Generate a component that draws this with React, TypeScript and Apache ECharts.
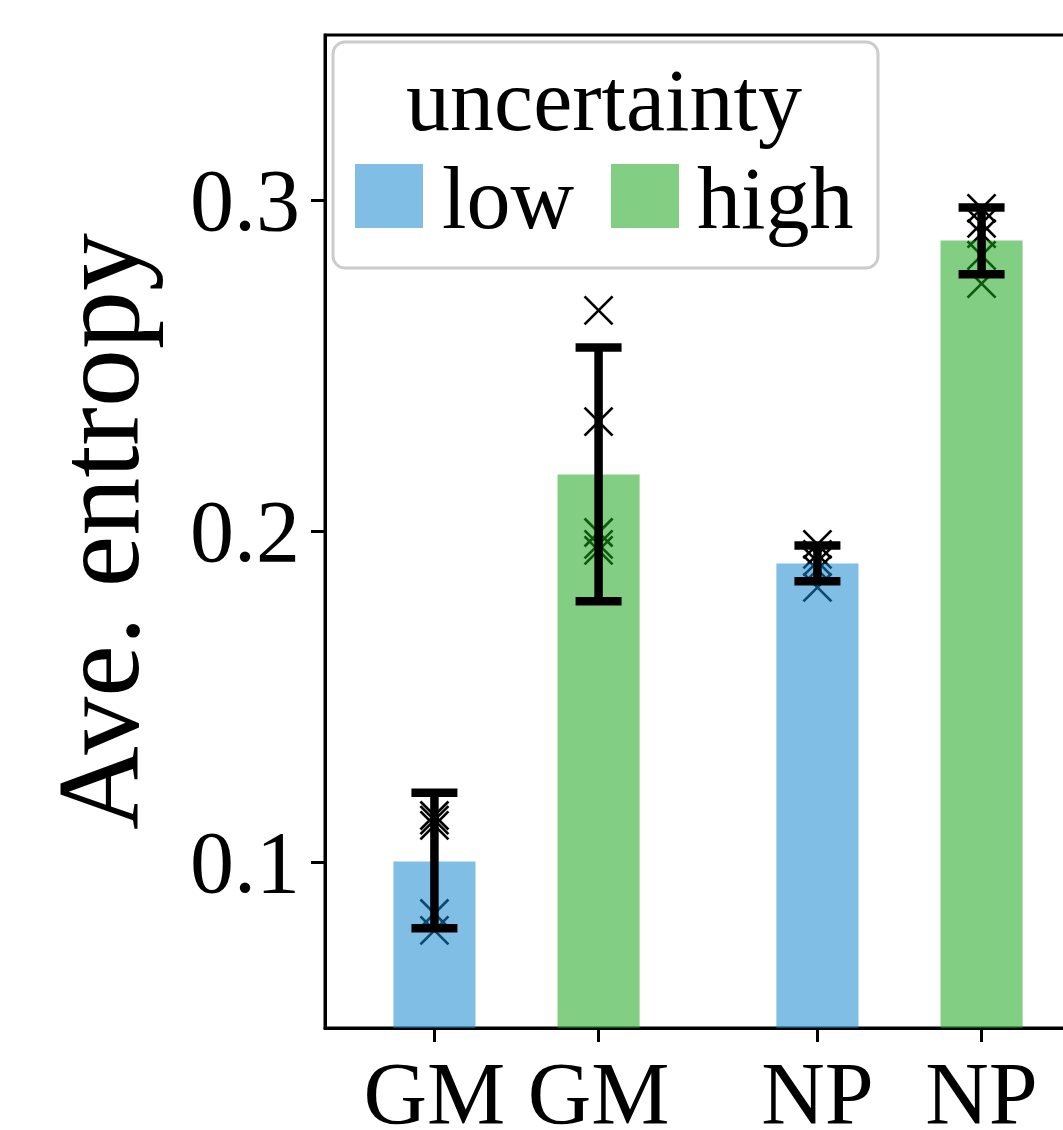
import React, { useEffect, useRef } from "react";
import * as echarts from "echarts";

// ---- data ----
const categories = ["GM", "GM", "NP", "NP"];
const positions = [0, 0.3, 0.7, 1.0];
const groups = ["low", "high", "low", "high"];
const meanValues = [0.1003, 0.2172, 0.1903, 0.2879];
const errLow = [0.0801, 0.1789, 0.185, 0.2777];
const errHigh = [0.1211, 0.2556, 0.1958, 0.2979];
const runsGMLow = [0.1142, 0.1128, 0.1112, 0.0846, 0.0795];
const runsGMHigh = [0.2668, 0.2332, 0.1997, 0.1961, 0.1943];
const runsNPLow = [0.1961, 0.1931, 0.1909, 0.1885, 0.1831];
const runsNPHigh = [0.2976, 0.2931, 0.29, 0.2834, 0.2749];
const runs = [runsGMLow, runsGMHigh, runsNPLow, runsNPHigh];
const yTicks = [0.1, 0.2, 0.3];
const legendTitle = "uncertainty";
const groupNames = ["low", "high"];

// ---- styles ----
const FONT = '"Liberation Serif", "Times New Roman", serif';
const Y_MIN = 0.05;
const Y_MAX = 0.35;
const X_MIN = -0.2;
const X_MAX = 1.2;
const BAR_WIDTH = 0.15;
const BAR_ALPHA = 0.54;
const groupColors: Record<string, string> = {
  low: "rgba(20,135,207," + BAR_ALPHA + ")",
  high: "rgba(24,164,24," + BAR_ALPHA + ")",
};

export default function App() {
  const ref = useRef<HTMLDivElement>(null);
  useEffect(() => {
    if (!ref.current) return;
    const chart = echarts.init(ref.current, null, { renderer: "svg" });

    const barSeries = groupNames.map((g) => ({
      type: "custom",
      name: g,
      z: 3,
      data: positions
        .map((p, i) => [p, meanValues[i], i])
        .filter((d) => groups[d[2] as number] === g),
      renderItem: (params: any, api: any) => {
        const x = api.value(0);
        const v = api.value(1);
        const top = api.coord([x, v]);
        const base = api.coord([x, Y_MIN]);
        const w = api.size([BAR_WIDTH, 0])[0];
        return {
          type: "rect",
          shape: { x: top[0] - w / 2, y: top[1], width: w, height: base[1] - top[1] },
          style: { fill: groupColors[g] },
        };
      },
    }));

    const crossData: number[][] = [];
    runs.forEach((arr, i) => arr.forEach((v) => crossData.push([positions[i], v])));

    const crossSeries = {
      type: "custom",
      name: "runs",
      z: 2,
      data: crossData,
      renderItem: (params: any, api: any) => {
        const c = api.coord([api.value(0), api.value(1)]);
        const s = 14;
        const st = { stroke: "#000", lineWidth: 2.6 };
        return {
          type: "group",
          children: [
            { type: "line", shape: { x1: c[0] - s, y1: c[1] - s, x2: c[0] + s, y2: c[1] + s }, style: st },
            { type: "line", shape: { x1: c[0] - s, y1: c[1] + s, x2: c[0] + s, y2: c[1] - s }, style: st },
          ],
        };
      },
    };

    const errSeries = {
      type: "custom",
      name: "error",
      z: 4,
      data: positions.map((p, i) => [p, errLow[i], errHigh[i]]),
      encode: { x: 0, y: [1, 2] },
      renderItem: (params: any, api: any) => {
        const lo = api.coord([api.value(0), api.value(1)]);
        const hi = api.coord([api.value(0), api.value(2)]);
        const cw = 23;
        const st = { stroke: "#000", lineWidth: 8.5 };
        return {
          type: "group",
          children: [
            { type: "line", shape: { x1: lo[0], y1: lo[1], x2: hi[0], y2: hi[1] }, style: st },
            { type: "line", shape: { x1: lo[0] - cw, y1: lo[1], x2: lo[0] + cw, y2: lo[1] }, style: st },
            { type: "line", shape: { x1: hi[0] - cw, y1: hi[1], x2: hi[0] + cw, y2: hi[1] }, style: st },
          ],
        };
      },
    };

    const labelFor = (v: number) => {
      const i = positions.findIndex((p) => Math.abs(p - v) < 1e-6);
      return i >= 0 ? categories[i] : "";
    };

    const textStyle = { fontFamily: FONT, fontSize: 88, fill: "#000" };

    chart.setOption({
      animation: false,
      backgroundColor: "#fff",
      grid: {
        left: 325,
        top: 35,
        width: 766,
        height: 993,
        outerBoundsMode: "none",
        containLabel: false,
        show: true,
        borderColor: "#000",
        borderWidth: 3,
        backgroundColor: "transparent",
      },
      xAxis: {
        type: "value",
        min: X_MIN,
        max: X_MAX,
        splitLine: { show: false },
        axisLine: { show: true, onZero: false, lineStyle: { color: "#000", width: 3 } },
        axisTick: { show: true, customValues: positions, length: 14, lineStyle: { color: "#000", width: 3 } },
        axisLabel: {
          customValues: positions,
          formatter: (v: number) => labelFor(v),
          fontFamily: FONT,
          fontSize: 88,
          lineHeight: 70,
          color: "#000",
          margin: 30,
        },
      },
      yAxis: {
        type: "value",
        min: Y_MIN,
        max: Y_MAX,
        name: "Ave. entropy",
        nameLocation: "middle",
        nameGap: 168,
        nameTextStyle: { fontFamily: FONT, fontSize: 116, color: "#000" },
        splitLine: { show: false },
        axisLine: { show: true, onZero: false, lineStyle: { color: "#000", width: 3 } },
        axisTick: { show: true, customValues: yTicks, length: 14, lineStyle: { color: "#000", width: 3 } },
        axisLabel: {
          customValues: yTicks,
          formatter: (v: number) => v.toFixed(1),
          fontFamily: FONT,
          fontSize: 88,
          color: "#000",
          margin: 25,
        },
      },
      graphic: [
        {
          type: "group",
          z: 100,
          children: [
            {
              type: "rect",
              shape: { x: 333, y: 42, width: 545, height: 226, r: 12 },
              style: { fill: "rgba(255,255,255,0.8)", stroke: "#cccccc", lineWidth: 3 },
            },
            {
              type: "text",
              x: 604,
              y: 100,
              style: { ...textStyle, text: legendTitle, align: "center", verticalAlign: "middle" },
            },
            {
              type: "rect",
              shape: { x: 355, y: 164, width: 68, height: 64 },
              style: { fill: groupColors.low },
            },
            {
              type: "text",
              x: 442,
              y: 198,
              style: { ...textStyle, text: groupNames[0], align: "left", verticalAlign: "middle" },
            },
            {
              type: "rect",
              shape: { x: 611, y: 164, width: 68, height: 64 },
              style: { fill: groupColors.high },
            },
            {
              type: "text",
              x: 697,
              y: 198,
              style: { ...textStyle, text: groupNames[1], align: "left", verticalAlign: "middle" },
            },
          ],
        },
      ],
      series: [crossSeries, ...barSeries, errSeries],
    });

    return () => chart.dispose();
  }, []);

  return (
    <div
      style={{
        position: "fixed",
        left: 0,
        top: 0,
        width: 1063,
        height: 1130,
        overflow: "hidden",
        background: "#fff",
      }}
    >
      <div ref={ref} style={{ width: 1200, height: 1130 }} />
    </div>
  );
}
